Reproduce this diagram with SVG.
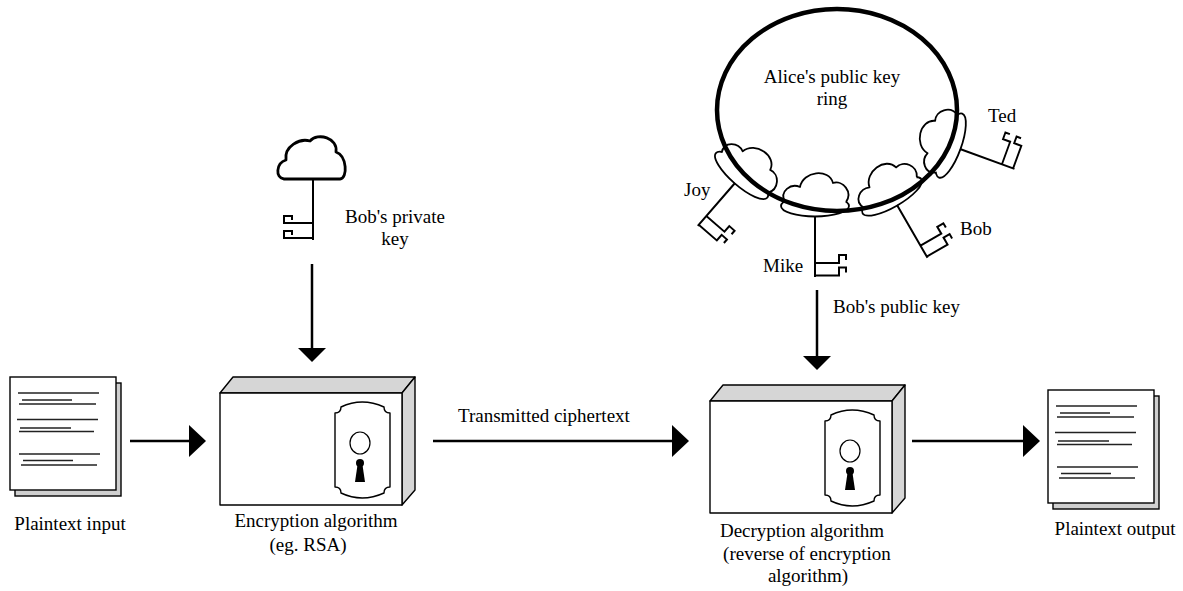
<svg xmlns="http://www.w3.org/2000/svg" xmlns:xlink="http://www.w3.org/1999/xlink" width="1183" height="591" viewBox="0 0 1183 591">
  <style>
    .lbl { font-family: "Liberation Serif", "Times New Roman", serif; font-size: 19px; fill: #000; }
    .mid { text-anchor: middle; }
    .edge { stroke: #000; stroke-width: 2.5; fill: none; }
    .page { fill: #fff; stroke: #000; stroke-width: 1.4; }
    .page-back { fill: #cfcfcf; stroke: #000; stroke-width: 1.4; }
    .rule { stroke: #222; stroke-width: 1.5; }
    .face { fill: #fff; stroke: #000; stroke-width: 1.4; stroke-linejoin: round; }
    .shade { fill: #d6d6d6; stroke: #000; stroke-width: 1.4; stroke-linejoin: round; }
    .key { fill: none; stroke: #000; stroke-width: 2; stroke-linejoin: miter; }
    .bow { fill: #fff; stroke: #000; stroke-width: 1.8; stroke-linejoin: round; }
  </style>
  <defs>
    <!-- filled arrowheads -->
    <marker id="headH" markerUnits="userSpaceOnUse" viewBox="0 0 17 32" markerWidth="17" markerHeight="32" refX="1" refY="16" orient="auto">
      <path d="M0,0 L17,16 L0,32 Z" fill="#000"/>
    </marker>
    <marker id="headV" markerUnits="userSpaceOnUse" viewBox="0 0 14 28" markerWidth="14" markerHeight="28" refX="1" refY="14" orient="auto">
      <path d="M0,0 L14,14 L0,28 Z" fill="#000"/>
    </marker>

    <!-- stacked text document -->
    <g id="doc">
      <rect class="page-back" x="5" y="6" width="106" height="113"/>
      <rect class="page" x="0" y="0" width="106" height="113"/>
      <g class="rule">
        <line x1="8" y1="16" x2="89" y2="16"/>
        <line x1="12" y1="23" x2="62" y2="23"/>
        <line x1="9" y1="27" x2="86" y2="27"/>
        <line x1="7" y1="42.5" x2="88" y2="42.5"/>
        <line x1="10" y1="51" x2="61" y2="51"/>
        <line x1="9" y1="54.5" x2="84" y2="54.5"/>
        <line x1="9" y1="77" x2="90" y2="77"/>
        <line x1="13" y1="83.5" x2="63" y2="83.5"/>
        <line x1="11" y1="88" x2="87" y2="88"/>
      </g>
    </g>

    <!-- lock box with keyhole plate -->
    <g id="lockbox">
      <polygon class="shade" points="0,0 13,-16 195,-16 182,0"/>
      <polygon class="shade" points="182,0 195,-16 195,97 182,112"/>
      <rect class="face" x="0" y="0" width="182" height="112"/>
      <path class="face" d="M115,20 Q121,20 121,14 Q142,4 164,14 Q164,20 170,20 V94 Q164,94 164,100 Q142,110 121,100 Q121,94 115,94 Z"/>
      <ellipse cx="140" cy="50" rx="10" ry="11" fill="#fff" stroke="#000" stroke-width="1.2"/>
      <circle cx="140" cy="70" r="4" fill="#000"/>
      <path d="M137.5,72 L135,89 L145,89 L142.5,72 Z" fill="#000"/>
    </g>

    <!-- key bow on the ring (origin = top of the shaft) -->
    <g id="ringbow">
      <ellipse class="bow" cx="0" cy="-10" rx="34" ry="10.5"/>
      <path class="bow" d="M-30,-14 C-36,-25 -24,-33 -15,-29 C-12,-45 14,-48 18,-33 C28,-36 38,-24 31,-14"/>
    </g>
    <!-- key shaft with bits on the +x side -->
    <path id="shaft" class="key" d="M0,0 V61 M0,47 H24 V39 H31 V44 M0,59.5 H24 V51.5 H31 V56.5"/>
  </defs>

  <rect width="1183" height="591" fill="#fff"/>

  <!-- connectors -->
  <g id="connectors">
    <line class="edge" x1="130" y1="441" x2="190" y2="441" marker-end="url(#headH)"/>
    <line class="edge" x1="433" y1="441" x2="673" y2="441" marker-end="url(#headH)"/>
    <line class="edge" x1="912" y1="441" x2="1024" y2="441" marker-end="url(#headH)"/>
    <line class="edge" x1="312" y1="264" x2="312" y2="349" marker-end="url(#headV)"/>
    <line class="edge" x1="817" y1="290" x2="817" y2="357" marker-end="url(#headV)"/>
    <text class="lbl" x="458" y="422">Transmitted ciphertext</text>
    <text class="lbl" x="833" y="313">Bob's public key</text>
  </g>

  <!-- plaintext input -->
  <g id="plaintext-input">
    <use xlink:href="#doc" transform="translate(10,377)"/>
    <text class="lbl mid" x="70" y="530">Plaintext input</text>
  </g>

  <!-- encryption -->
  <g id="encryption">
    <use xlink:href="#lockbox" transform="translate(220,393)"/>
    <text class="lbl mid" x="316" y="527">Encryption algorithm</text>
    <text class="lbl mid" x="308" y="551">(eg. RSA)</text>
  </g>

  <!-- private key -->
  <g id="private-key">
    <path d="M284,179 C275,178 276,163 286,160 C284,146 300,138 310,141 C318,132 338,138 336,152 C347,156 348,178 340,179 Z" fill="#fff" stroke="#000" stroke-width="2.8" stroke-linejoin="round"/>
    <path class="key" stroke-width="2.4" d="M313,179 V240 M313,223 H284 V216 H292 V220 M313,238 H284 V231 H292 V235"/>
    <text class="lbl mid" x="395" y="223">Bob's private</text>
    <text class="lbl mid" x="395" y="245">key</text>
  </g>

  <!-- public key ring -->
  <g id="key-ring">
    <g transform="translate(735,183) rotate(41)">
      <use xlink:href="#ringbow"/>
      <use xlink:href="#shaft" transform="scale(1,0.93)"/>
    </g>
    <g transform="translate(815,216)">
      <use xlink:href="#ringbow"/>
      <use xlink:href="#shaft"/>
    </g>
    <g transform="translate(897,205) rotate(-30)">
      <use xlink:href="#ringbow"/>
      <use xlink:href="#shaft"/>
    </g>
    <g transform="translate(960,149) rotate(-70)">
      <use xlink:href="#ringbow"/>
      <use xlink:href="#shaft" transform="scale(1,0.95)"/>
    </g>
    <ellipse cx="837" cy="110" rx="120" ry="101" fill="none" stroke="#000" stroke-width="4.5"/>
    <text class="lbl mid" x="832" y="83">Alice's public key</text>
    <text class="lbl mid" x="832" y="105">ring</text>
    <text class="lbl" x="684" y="196">Joy</text>
    <text class="lbl" x="763" y="272">Mike</text>
    <text class="lbl" x="960" y="235">Bob</text>
    <text class="lbl" x="988" y="122">Ted</text>
  </g>

  <!-- decryption -->
  <g id="decryption">
    <use xlink:href="#lockbox" transform="translate(710,401)"/>
    <text class="lbl mid" x="802" y="537">Decryption algorithm</text>
    <text class="lbl mid" x="807" y="560">(reverse of encryption</text>
    <text class="lbl mid" x="808" y="582">algorithm)</text>
  </g>

  <!-- plaintext output -->
  <g id="plaintext-output">
    <use xlink:href="#doc" transform="translate(1048,390)"/>
    <text class="lbl mid" x="1115" y="535">Plaintext output</text>
  </g>
</svg>
